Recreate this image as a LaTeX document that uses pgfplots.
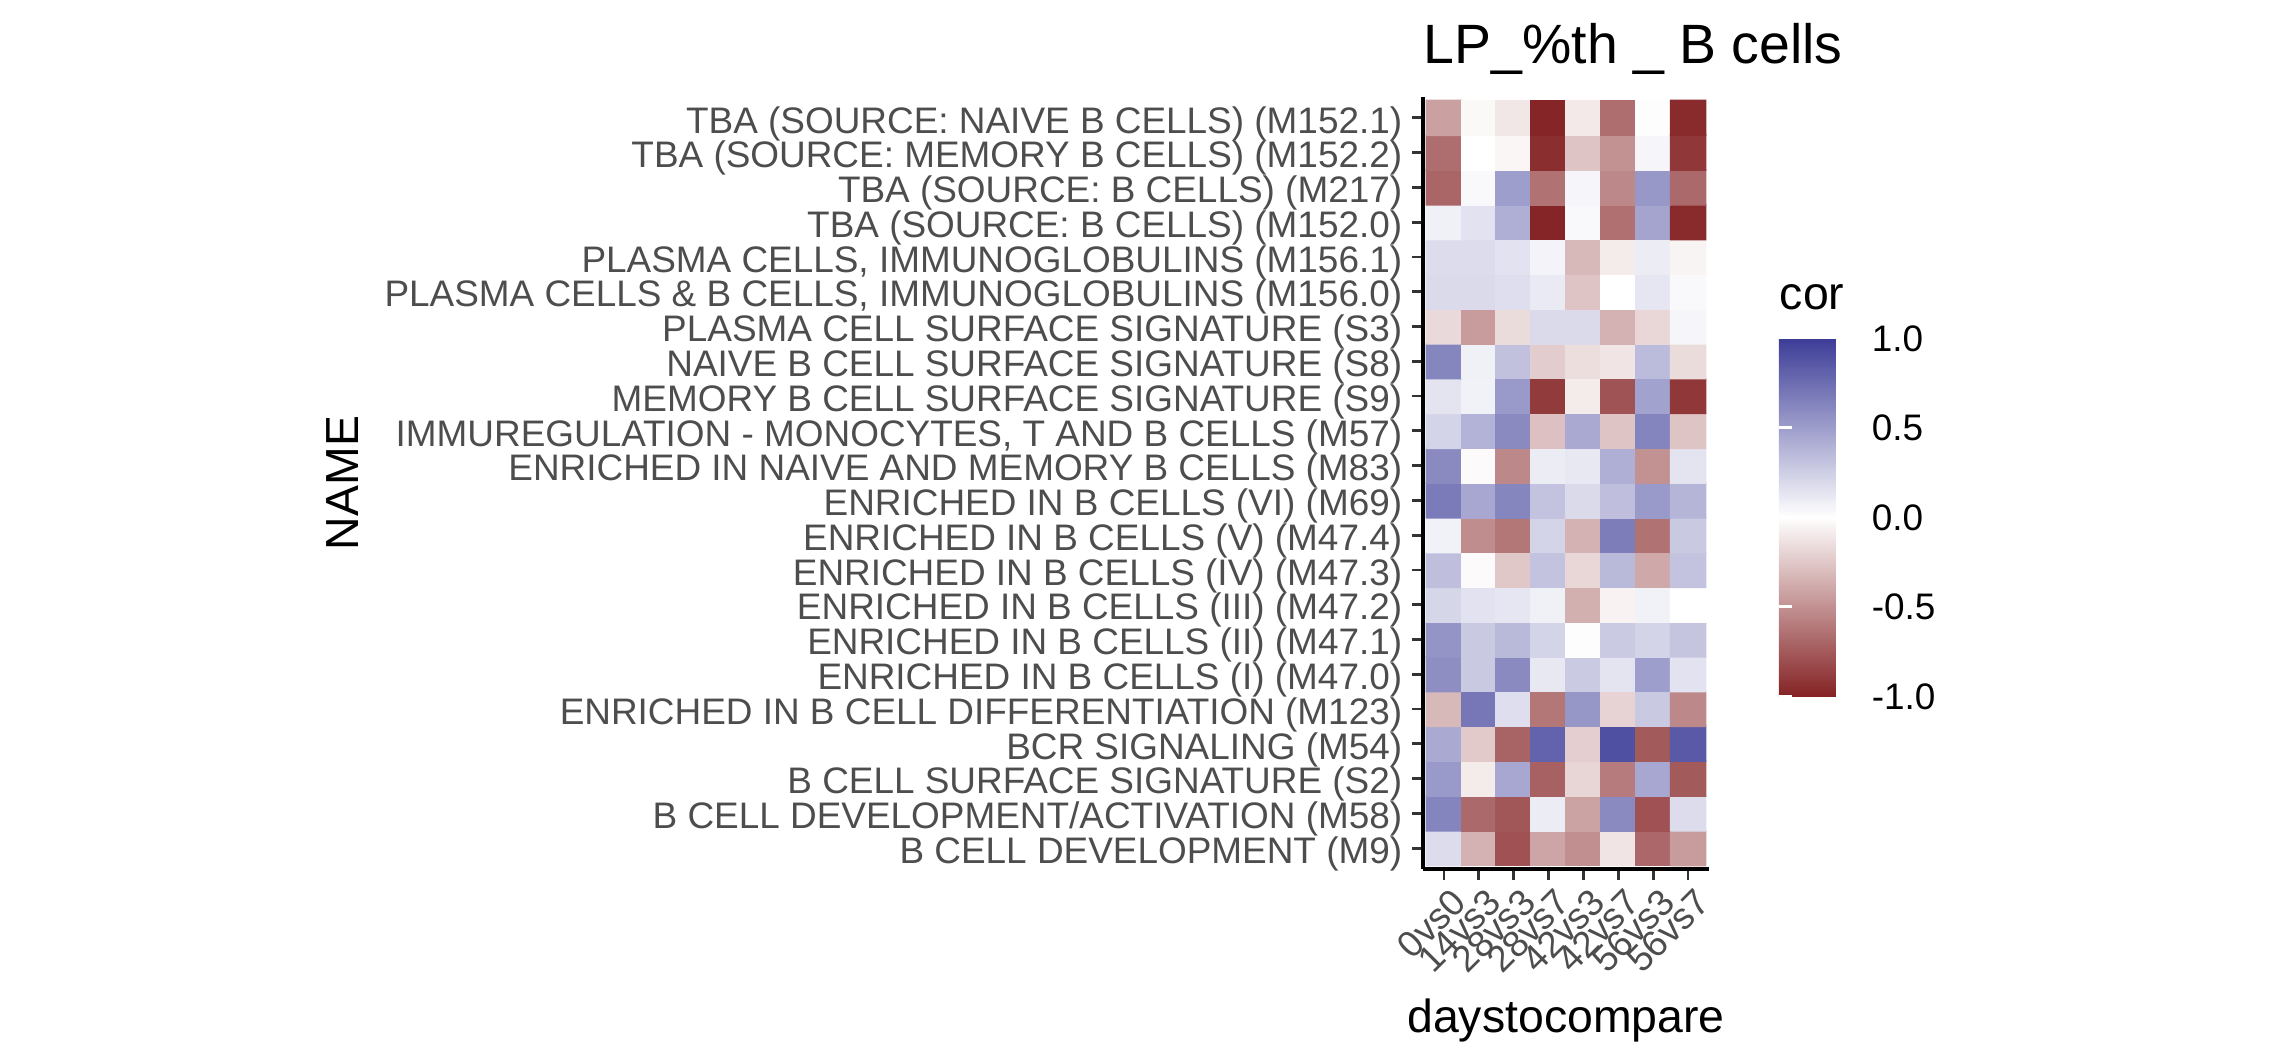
\documentclass[border=0pt]{standalone}
\usepackage{fontspec}
\setmainfont{Liberation Sans}
\usepackage{pgfplots}
\pgfplotsset{compat=1.18}
\definecolor{grey30}{HTML}{4D4D4D}
\definecolor{grey20}{HTML}{333333}
\begin{document}
\begin{tikzpicture}
\path[use as bounding box] (0pt,0pt) rectangle (571pt,265.5pt);
\begin{axis}[
  at={(355.75pt,48.25pt)}, anchor=south west,
  width=71.5pt, height=193pt, scale only axis,
  xmin=-0.6, xmax=7.6, ymin=-0.6, ymax=21.6,
  axis x line*=bottom, axis y line*=left,
  axis line style={-, line width=0.8pt, black},
  tick align=outside, major tick length=2.75pt,
  major tick style={grey20, line width=0.7pt},
  xtick={0,...,7}, ytick={0,...,21},
  xticklabels={0vs0,14vs3,28vs3,28vs7,42vs3,42vs7,56vs3,56vs7},
  yticklabels={
    {B CELL DEVELOPMENT (M9)},
    {B CELL DEVELOPMENT/ACTIVATION (M58)},
    {B CELL SURFACE SIGNATURE (S2)},
    {BCR SIGNALING (M54)},
    {ENRICHED IN B CELL DIFFERENTIATION (M123)},
    {ENRICHED IN B CELLS (I) (M47.0)},
    {ENRICHED IN B CELLS (II) (M47.1)},
    {ENRICHED IN B CELLS (III) (M47.2)},
    {ENRICHED IN B CELLS (IV) (M47.3)},
    {ENRICHED IN B CELLS (V) (M47.4)},
    {ENRICHED IN B CELLS (VI) (M69)},
    {ENRICHED IN NAIVE AND MEMORY B CELLS (M83)},
    {IMMUREGULATION - MONOCYTES, T AND B CELLS (M57)},
    {MEMORY B CELL SURFACE SIGNATURE (S9)},
    {NAIVE B CELL SURFACE SIGNATURE (S8)},
    {PLASMA CELL SURFACE SIGNATURE (S3)},
    {PLASMA CELLS \& B CELLS, IMMUNOGLOBULINS (M156.0)},
    {PLASMA CELLS, IMMUNOGLOBULINS (M156.1)},
    {TBA (SOURCE: B CELLS) (M152.0)},
    {TBA (SOURCE: B CELLS) (M217)},
    {TBA (SOURCE: MEMORY B CELLS) (M152.2)},
    {TBA (SOURCE: NAIVE B CELLS) (M152.1)}},
  yticklabel style={font=\fontsize{9.23}{11}\selectfont, text=grey30, anchor=base east, inner sep=0pt, xshift=-2.25pt, yshift=-3.8pt},
  xticklabel style={font=\fontsize{9.23}{11}\selectfont, text=grey30, rotate=45, anchor=north east, inner sep=0pt, yshift=-2pt},
  colormap={cor}{rgb255=(133,35,37) rgb255=(255,255,255) rgb255=(60,60,152)},
  point meta min=-1, point meta max=1,
  colorbar,
  colorbar shift/.style={},
  colorbar style={
    at={(parent axis.south east)}, anchor=south west,
    xshift=17.5pt, yshift=43.25pt,
    width=18pt, height=89.5pt, scale only axis,
    ytick={-1,-0.5,0,0.5,1},
    yticklabels={-1.0,-0.5,0.0,0.5,1.0},
    yticklabel style={font=\fontsize{9.23}{11}\selectfont, text=black, anchor=base west, inner sep=0pt, xshift=5pt, yshift=-3.3pt},
    tick align=inside, ytick pos=both, yticklabel pos=right,
    major tick length=3.25pt, major tick style={white, line width=0.6pt},
    axis line style={draw=none},
  },
]
\addplot[matrix plot*, mesh/cols=8, point meta=explicit] table[meta=c] {
x y c
0 0 0.18
1 0 -0.35
2 0 -0.79
3 0 -0.41
4 0 -0.51
5 0 -0.12
6 0 -0.69
7 0 -0.45
0 1 0.63
1 1 -0.68
2 1 -0.77
3 1 0.10
4 1 -0.42
5 1 0.60
6 1 -0.79
7 1 0.18
0 2 0.52
1 2 -0.09
2 2 0.45
3 2 -0.72
4 2 -0.19
5 2 -0.60
6 2 0.45
7 2 -0.75
0 3 0.44
1 3 -0.24
2 3 -0.71
3 3 0.80
4 3 -0.22
5 3 0.90
6 3 -0.75
7 3 0.85
0 4 -0.32
1 4 0.70
2 4 0.17
3 4 -0.62
4 4 0.54
5 4 -0.20
6 4 0.28
7 4 -0.54
0 5 0.58
1 5 0.28
2 5 0.60
3 5 0.12
4 5 0.27
5 5 0.14
6 5 0.50
7 5 0.15
0 6 0.55
1 6 0.28
2 6 0.36
3 6 0.22
4 6 0.01
5 6 0.27
6 6 0.22
7 6 0.30
0 7 0.21
1 7 0.15
2 7 0.13
3 7 0.08
4 7 -0.36
5 7 -0.06
6 7 0.07
7 7 0.00
0 8 0.33
1 8 -0.02
2 8 -0.25
3 8 0.31
4 8 -0.18
5 8 0.36
6 8 -0.39
7 8 0.31
0 9 0.07
1 9 -0.52
2 9 -0.62
3 9 0.22
4 9 -0.35
5 9 0.67
6 9 -0.64
7 9 0.28
0 10 0.68
1 10 0.45
2 10 0.62
3 10 0.31
4 10 0.19
5 10 0.33
6 10 0.52
7 10 0.38
0 11 0.60
1 11 -0.02
2 11 -0.54
3 11 0.10
4 11 0.12
5 11 0.41
6 11 -0.50
7 11 0.14
0 12 0.22
1 12 0.39
2 12 0.60
3 12 -0.28
4 12 0.44
5 12 -0.27
6 12 0.63
7 12 -0.27
0 13 0.14
1 13 0.07
2 13 0.52
3 13 -0.89
4 13 -0.09
5 13 -0.78
6 13 0.48
7 13 -0.91
0 14 0.62
1 14 0.08
2 14 0.32
3 14 -0.23
4 14 -0.15
5 14 -0.12
6 14 0.35
7 14 -0.16
0 15 -0.17
1 15 -0.45
2 15 -0.16
3 15 0.19
4 15 0.19
5 15 -0.35
6 15 -0.18
7 15 0.05
0 16 0.19
1 16 0.19
2 16 0.17
3 16 0.11
4 16 -0.27
5 16 0.00
6 16 0.13
7 16 0.03
0 17 0.18
1 17 0.18
2 17 0.15
3 17 0.06
4 17 -0.32
5 17 -0.09
6 17 0.10
7 17 -0.05
0 18 0.08
1 18 0.15
2 18 0.41
3 18 -0.99
4 18 0.03
5 18 -0.65
6 18 0.47
7 18 -0.97
0 19 -0.70
1 19 0.03
2 19 0.50
3 19 -0.64
4 19 0.05
5 19 -0.54
6 19 0.53
7 19 -0.68
0 20 -0.66
1 20 0.00
2 20 -0.04
3 20 -0.95
4 20 -0.27
5 20 -0.50
6 20 0.05
7 20 -0.91
0 21 -0.43
1 21 -0.03
2 21 -0.11
3 21 -0.99
4 21 -0.10
5 21 -0.66
6 21 -0.01
7 21 -0.97
};
\end{axis}
\node[anchor=base west, inner sep=0pt, font=\fontsize{13.85}{16}\selectfont] at (355.75pt,249.5pt) {LP\_\%th \_ B cells};
\node[anchor=base, inner sep=0pt, rotate=90, font=\fontsize{11.6}{14}\selectfont] at (89.5pt,144.75pt) {NAME};
\node[anchor=base, inner sep=0pt, font=\fontsize{11.6}{14}\selectfont] at (391.5pt,7.5pt) {daystocompare};
\node[anchor=base west, inner sep=0pt, font=\fontsize{11.6}{14}\selectfont] at (444.75pt,188pt) {cor};
\end{tikzpicture}
\end{document}
